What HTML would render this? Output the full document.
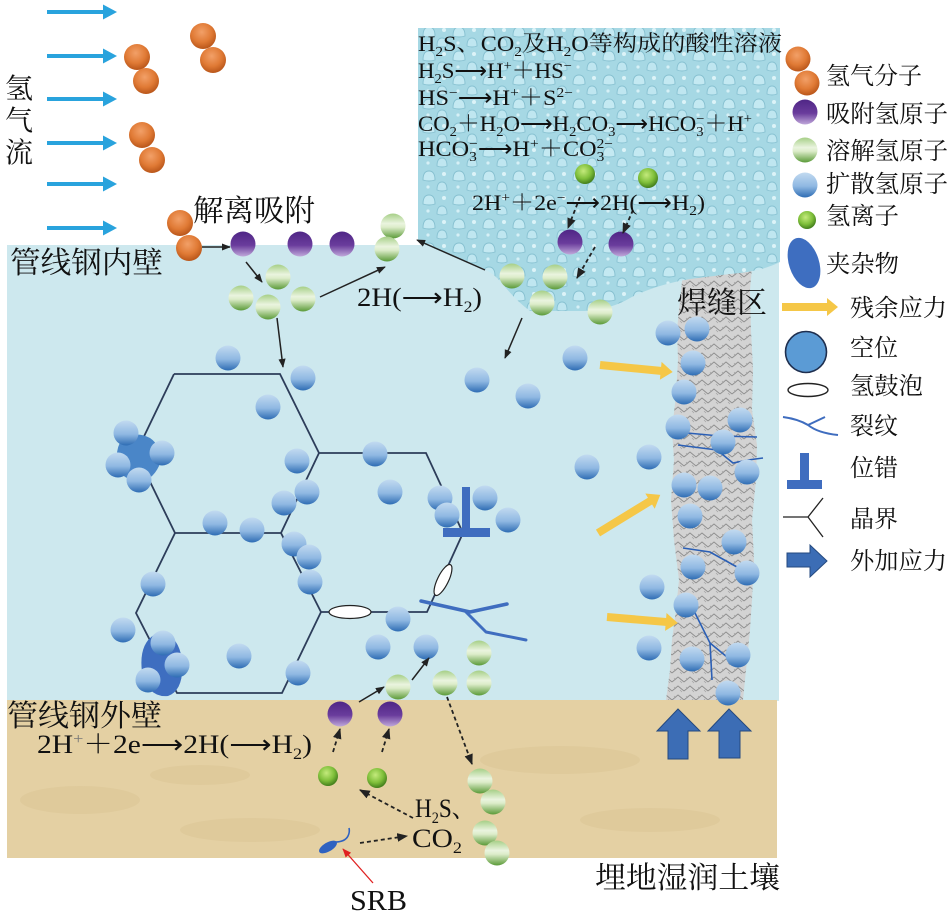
<!DOCTYPE html>
<html><head><meta charset="utf-8"><style>
html,body{margin:0;padding:0;background:#fff;}
svg{display:block;}
text{font-family:"Liberation Serif","Noto Serif CJK SC",serif;fill:#111;}
</style></head><body>
<svg width="952" height="918" viewBox="0 0 952 918" xmlns="http://www.w3.org/2000/svg">
<defs>
<radialGradient id="gOr" cx="45%" cy="35%" r="65%"><stop offset="0" stop-color="#f2a068"/><stop offset="0.6" stop-color="#e07a35"/><stop offset="1" stop-color="#b9561a"/></radialGradient>
<linearGradient id="gPu" x1="0" y1="0" x2="0" y2="1"><stop offset="0" stop-color="#4f2686"/><stop offset="0.55" stop-color="#6a3c9c"/><stop offset="1" stop-color="#c0a8da"/></linearGradient>
<linearGradient id="gGr" x1="0" y1="0" x2="0" y2="1"><stop offset="0" stop-color="#a6cf86"/><stop offset="0.4" stop-color="#eaf4df"/><stop offset="0.55" stop-color="#dcecc9"/><stop offset="1" stop-color="#5a9a38"/></linearGradient>
<linearGradient id="gBl" x1="0" y1="0" x2="0" y2="1"><stop offset="0" stop-color="#c2daf0"/><stop offset="0.55" stop-color="#8fb8e2"/><stop offset="1" stop-color="#2e6cb4"/></linearGradient>
<radialGradient id="gIon" cx="42%" cy="35%" r="65%"><stop offset="0" stop-color="#c4ea7c"/><stop offset="0.6" stop-color="#7fbf3a"/><stop offset="1" stop-color="#437f1c"/></radialGradient>
<pattern id="drops" width="30" height="24" patternUnits="userSpaceOnUse">
<rect width="30" height="24" fill="#a6d8e4"/>
<path d="M3,12 Q3,3 9,3 Q15,3 15,12 Q9,14 3,12Z" fill="#c4e9f2" stroke="#86c0d0" stroke-width="0.9"/>
<path d="M17,22 Q17,14 22,14 Q27,14 27,22 Q22,24 17,22Z" fill="#bfe6f0" stroke="#88c2d2" stroke-width="0.9"/>
<circle cx="24" cy="6" r="2" fill="#dcf3f8"/>
<circle cx="8" cy="19" r="1.6" fill="#d6f0f6"/>
</pattern>
<pattern id="weld" width="12" height="9" patternUnits="userSpaceOnUse">
<rect width="12" height="9" fill="#d3d3d3"/>
<path d="M0,7 L6,2 L12,7" fill="none" stroke="#8e8e8e" stroke-width="0.9"/>
<path d="M2,3 L4,5 M8,6 L10,8" fill="none" stroke="#a2a2a2" stroke-width="0.7"/>
</pattern>
<marker id="ah" viewBox="0 0 10 10" refX="9" refY="5" markerWidth="6" markerHeight="6" orient="auto" markerUnits="strokeWidth"><path d="M0,1 L10,5 L0,9 z" fill="#222"/></marker>
<marker id="ahr" viewBox="0 0 10 10" refX="9" refY="5" markerWidth="7" markerHeight="7" orient="auto" markerUnits="strokeWidth"><path d="M0,1 L10,5 L0,9 z" fill="#e02020"/></marker>
</defs>

<!-- regions -->
<rect x="7" y="245" width="772" height="456" fill="#cde8ee"/>
<rect x="7" y="700" width="770" height="158" fill="#e4d0a3"/>
<g opacity="0.18" fill="#c9b07a">
<ellipse cx="80" cy="800" rx="60" ry="14"/><ellipse cx="250" cy="830" rx="70" ry="12"/><ellipse cx="560" cy="760" rx="80" ry="14"/><ellipse cx="650" cy="820" rx="70" ry="12"/><ellipse cx="200" cy="775" rx="50" ry="10"/>
</g>

<!-- weld zone -->
<path d="M683,272 L680,300 L677,330 L678,360 L676,395 L672,430 L674,460 L671,500 L674,540 L679,580 L676,610 L672,640 L670,670 L666,700 L743,700 L746,670 L750,630 L752,600 L754,560 L752,520 L756,480 L757,445 L752,410 L753,370 L751,330 L750,290 L752,268 Z" fill="url(#weld)"/>

<!-- acid solution blob -->
<path d="M418,28 L780,28 L780,262 Q760,272 730,274 L690,279 Q655,285 630,298 Q612,309 585,311 L530,311 Q515,300 502,283 Q492,272 482,268 L418,242 Z" fill="url(#drops)"/>

<!-- hex grain boundaries -->
<g stroke="#2d3d5a" stroke-width="1.8" fill="none">
<path d="M174,374 L280,374 L319,453 L426,453 L463,533 L427,612 L321,612 L281,533 L319,453"/>
<path d="M281,533 L175,533 L136,453 L174,374"/>
<path d="M175,533 L136,613 L177,693 L282,693 L321,612"/>
</g>

<!-- inclusions -->
<path d="M122,440 Q135,430 150,438 Q163,447 159,466 Q151,483 135,481 Q117,477 117,460 Q116,447 122,440Z" fill="#4a86c8"/>
<path d="M160,632 Q180,636 182,662 Q184,690 168,696 Q148,698 142,672 Q138,640 160,632Z" fill="#3e6ec0"/>

<!-- dislocation -->
<rect x="462" y="487" width="8" height="44" fill="#3f6dbf"/>
<rect x="443" y="528" width="47" height="9" fill="#3f6dbf"/>

<!-- blisters -->
<ellipse cx="350" cy="612" rx="21" ry="6.5" fill="#fff" stroke="#222" stroke-width="1.2"/>
<ellipse cx="443" cy="580" rx="17" ry="5.5" fill="#fff" stroke="#222" stroke-width="1.2" transform="rotate(-64 443 580)"/>

<!-- crack -->
<g stroke="#3f6dbf" fill="none" stroke-linecap="round" stroke-linejoin="round">
<path d="M421,601 L470,612 L507,604" stroke-width="3.5"/>
<path d="M466,612 L486,632 L526,640" stroke-width="3"/>
</g>

<!-- weld cracks -->
<g stroke="#2b5fb5" fill="none" stroke-width="1.6">
<path d="M687,433 L720,436 L757,437"/>
<path d="M678,445 L717,450 L733,463 L748,460 L763,458"/>
<path d="M683,548 L710,552 L737,567"/>
<path d="M695,613 L710,643 L712,680 M710,643 L727,657"/>
</g>

<!-- blue diffusion atoms -->
<g fill="url(#gBl)">
<circle cx="126" cy="433" r="12.5"/><circle cx="162" cy="453" r="12.5"/><circle cx="118" cy="465" r="12.5"/><circle cx="139" cy="480" r="12.5"/>
<circle cx="163" cy="643" r="12.5"/><circle cx="177" cy="665" r="12.5"/><circle cx="148" cy="680" r="12.5"/>
<circle cx="228" cy="358" r="12.5"/><circle cx="303" cy="378" r="12.5"/><circle cx="268" cy="407" r="12.5"/><circle cx="297" cy="461" r="12.5"/>
<circle cx="307" cy="492" r="12.5"/><circle cx="284" cy="503" r="12.5"/><circle cx="215" cy="523" r="12.5"/><circle cx="252" cy="530" r="12.5"/>
<circle cx="294" cy="544" r="12.5"/><circle cx="309" cy="557" r="12.5"/><circle cx="310" cy="582" r="12.5"/><circle cx="375" cy="454" r="12.5"/>
<circle cx="390" cy="492" r="12.5"/><circle cx="440" cy="498" r="12.5"/><circle cx="447" cy="515" r="12.5"/><circle cx="485" cy="498" r="12.5"/>
<circle cx="508" cy="520" r="12.5"/><circle cx="153" cy="584" r="12.5"/><circle cx="123" cy="630" r="12.5"/><circle cx="239" cy="656" r="12.5"/>
<circle cx="298" cy="673" r="12.5"/><circle cx="398" cy="619" r="12.5"/><circle cx="378" cy="647" r="12.5"/><circle cx="426" cy="647" r="12.5"/>
<circle cx="477" cy="380" r="12.5"/><circle cx="528" cy="396" r="12.5"/>
<circle cx="575" cy="358" r="12.5"/><circle cx="587" cy="467" r="12.5"/><circle cx="649" cy="457" r="12.5"/><circle cx="652" cy="587" r="12.5"/><circle cx="649" cy="648" r="12.5"/>
<circle cx="668" cy="333" r="12.5"/><circle cx="697" cy="329" r="12.5"/><circle cx="693" cy="363" r="12.5"/><circle cx="684" cy="392" r="12.5"/>
<circle cx="678" cy="427" r="12.5"/><circle cx="740" cy="420" r="12.5"/><circle cx="723" cy="442" r="12.5"/><circle cx="747" cy="472" r="12.5"/>
<circle cx="684" cy="485" r="12.5"/><circle cx="710" cy="488" r="12.5"/><circle cx="690" cy="516" r="12.5"/><circle cx="734" cy="542" r="12.5"/>
<circle cx="693" cy="567" r="12.5"/><circle cx="747" cy="573" r="12.5"/><circle cx="686" cy="605" r="12.5"/><circle cx="692" cy="659" r="12.5"/>
<circle cx="738" cy="655" r="12.5"/><circle cx="728" cy="693" r="12.5"/>
<circle cx="805" cy="185" r="12.5"/>
</g>

<!-- orange H2 molecules -->
<g fill="url(#gOr)">
<circle cx="203" cy="36" r="13"/><circle cx="213" cy="60" r="13"/><circle cx="137" cy="57" r="13"/><circle cx="146" cy="81" r="13"/>
<circle cx="142" cy="135" r="13"/><circle cx="152" cy="160" r="13"/><circle cx="180" cy="223" r="13"/><circle cx="189" cy="248" r="13"/>
<circle cx="798" cy="59" r="12.5"/><circle cx="807" cy="83" r="12.5"/>
</g>

<!-- purple adsorbed -->
<g fill="url(#gPu)">
<circle cx="243" cy="244" r="12.5"/><circle cx="300" cy="244" r="12.5"/><circle cx="342" cy="244" r="12.5"/>
<circle cx="570" cy="242" r="12.5"/><circle cx="621" cy="244" r="12.5"/>
<circle cx="340" cy="714" r="12.5"/><circle cx="390" cy="714" r="12.5"/>
<circle cx="805" cy="112" r="12.5"/>
</g>

<!-- green dissolved -->
<g fill="url(#gGr)">
<circle cx="393" cy="226" r="12.5"/><circle cx="387" cy="249" r="12.5"/><circle cx="278" cy="277" r="12.5"/><circle cx="241" cy="298" r="12.5"/>
<circle cx="268" cy="307" r="12.5"/><circle cx="303" cy="299" r="12.5"/><circle cx="512" cy="276" r="12.5"/><circle cx="555" cy="277" r="12.5"/>
<circle cx="542" cy="303" r="12.5"/><circle cx="600" cy="312" r="12.5"/>
<circle cx="398" cy="687" r="12.5"/><circle cx="445" cy="683" r="12.5"/><circle cx="479" cy="683" r="12.5"/><circle cx="479" cy="653" r="12.5"/>
<circle cx="480" cy="781" r="12.5"/><circle cx="493" cy="802" r="12.5"/><circle cx="485" cy="833" r="12.5"/><circle cx="497" cy="853" r="12.5"/>
<circle cx="805" cy="150" r="12.5"/>
</g>

<!-- ions -->
<g fill="url(#gIon)">
<circle cx="585" cy="174" r="10"/><circle cx="648" cy="178" r="10"/><circle cx="328" cy="776" r="10"/><circle cx="377" cy="778" r="10"/>
<circle cx="807" cy="220" r="9"/>
</g>

<!-- blue flow arrows -->
<g fill="#29a3dd">
<g transform="translate(47,12)"><rect x="0" y="-2" width="58" height="4"/><polygon points="56,-7.5 70,0 56,7.5"/></g>
<g transform="translate(47,56)"><rect x="0" y="-2" width="58" height="4"/><polygon points="56,-7.5 70,0 56,7.5"/></g>
<g transform="translate(47,99)"><rect x="0" y="-2" width="58" height="4"/><polygon points="56,-7.5 70,0 56,7.5"/></g>
<g transform="translate(47,143)"><rect x="0" y="-2" width="58" height="4"/><polygon points="56,-7.5 70,0 56,7.5"/></g>
<g transform="translate(47,184)"><rect x="0" y="-2" width="58" height="4"/><polygon points="56,-7.5 70,0 56,7.5"/></g>
<g transform="translate(47,228)"><rect x="0" y="-2" width="58" height="4"/><polygon points="56,-7.5 70,0 56,7.5"/></g>
</g>

<!-- yellow residual stress arrows -->
<g fill="#f5c747">
<g transform="translate(600,365) rotate(5.5)"><polygon points="0,-4 61,-4 61,-9 73,0 61,9 61,4 0,4"/></g>
<g transform="translate(598,533) rotate(-31.5)"><polygon points="0,-4 61,-4 61,-9 73,0 61,9 61,4 0,4"/></g>
<g transform="translate(607,617) rotate(4.8)"><polygon points="0,-4 59,-4 59,-9 71,0 59,9 59,4 0,4"/></g>
<g transform="translate(782,307)"><polygon points="0,-4 45,-4 45,-9 56,0 45,9 45,4 0,4"/></g>
</g>

<!-- applied stress arrows -->
<g fill="#3c6db5" stroke="#24497f" stroke-width="1">
<polygon points="678,709 700,731 688,731 688,759 668,759 668,731 657,731"/>
<polygon points="729,709 751,731 740,731 740,758 719,758 719,731 708,731"/>
<polygon points="787,553 810,553 810,545 827,561 810,577 810,567 787,567"/>
</g>

<!-- black arrows -->
<g stroke="#222" stroke-width="1.5" fill="none" marker-end="url(#ah)">
<line x1="202" y1="247" x2="230" y2="247"/>
<line x1="246" y1="262" x2="262" y2="282"/>
<line x1="320" y1="297" x2="385" y2="267"/>
<line x1="485" y1="270" x2="417" y2="240"/>
<line x1="277" y1="318" x2="283" y2="367"/>
<line x1="522" y1="318" x2="505" y2="358"/>
<line x1="359" y1="702" x2="384" y2="687"/>
<line x1="412" y1="680" x2="429" y2="658"/>
</g>
<g stroke="#222" stroke-width="1.8" fill="none" stroke-dasharray="4 3" marker-end="url(#ah)">
<line x1="580" y1="197" x2="568" y2="228"/>
<line x1="633" y1="210" x2="623" y2="233"/>
<line x1="595" y1="247" x2="577" y2="278"/>
<line x1="333" y1="752" x2="340" y2="729"/>
<line x1="382" y1="752" x2="389" y2="729"/>
<line x1="447" y1="697" x2="472" y2="764"/>
<line x1="413" y1="818" x2="360" y2="790"/>
<line x1="360" y1="843" x2="407" y2="836"/>
</g>
<line x1="373" y1="883" x2="343" y2="849" stroke="#e02020" stroke-width="1.3" marker-end="url(#ahr)"/>

<!-- SRB -->
<ellipse cx="328" cy="847" rx="10" ry="4.5" fill="#2f62c0" transform="rotate(-30 328 847)"/>
<path d="M335,842 Q345,842 348,836 Q350,832 349,828" stroke="#2f62c0" stroke-width="1.6" fill="none"/>

<!-- legend shapes -->
<ellipse cx="804" cy="263" rx="15" ry="26" fill="#3e6ec0" transform="rotate(-18 804 263)"/>
<circle cx="806" cy="352" r="20.5" fill="#5b9bd5" stroke="#1f2f4f" stroke-width="1.6"/>
<ellipse cx="808" cy="390" rx="20" ry="6.5" fill="#fff" stroke="#222" stroke-width="1.4"/>
<path d="M783,417 Q798,419 808,425 L825,417 M808,425 Q818,433 838,435" stroke="#3f6dbf" stroke-width="2" fill="none"/>
<rect x="800" y="453" width="9" height="28" fill="#3f6dbf"/>
<rect x="787" y="480" width="35" height="9" fill="#3f6dbf"/>
<path d="M783,517 L808,517 L823,498 M808,517 L823,537" stroke="#222" stroke-width="1.3" fill="none"/>

<!-- texts -->
<g font-size="28" text-anchor="middle">
<text x="19" y="98">氢</text><text x="19" y="130">气</text><text x="19" y="162">流</text>
</g>
<text x="193" y="221" font-size="30" textLength="122" lengthAdjust="spacingAndGlyphs">解离吸附</text>
<text x="10" y="273" font-size="30" textLength="153" lengthAdjust="spacingAndGlyphs">管线钢内壁</text>
<text x="357" y="306" font-size="26" textLength="125" lengthAdjust="spacingAndGlyphs">2H(⟶H<tspan dy="6" font-size="16">2</tspan><tspan dy="-6">)</tspan></text>

<g font-size="22">
<text x="418" y="51" textLength="364" lengthAdjust="spacingAndGlyphs">H<tspan dy="5" font-size="14">2</tspan><tspan dy="-5">S、CO</tspan><tspan dy="5" font-size="14">2</tspan><tspan dy="-5">及H</tspan><tspan dy="5" font-size="14">2</tspan><tspan dy="-5">O等构成的酸性溶液</tspan></text>
<text x="418" y="78" textLength="154" lengthAdjust="spacingAndGlyphs">H<tspan dy="5" font-size="14">2</tspan><tspan dy="-5">S⟶H</tspan><tspan dy="-8" font-size="14">+</tspan><tspan dy="8">＋HS</tspan><tspan dy="-8" font-size="14">−</tspan></text>
<text x="418" y="105" textLength="155" lengthAdjust="spacingAndGlyphs">HS<tspan dy="-8" font-size="14">−</tspan><tspan dy="8">⟶H</tspan><tspan dy="-8" font-size="14">+</tspan><tspan dy="8">＋S</tspan><tspan dy="-8" font-size="14">2−</tspan></text>
<text x="418" y="131" textLength="334" lengthAdjust="spacingAndGlyphs">CO<tspan dy="5" font-size="14">2</tspan><tspan dy="-5">＋H</tspan><tspan dy="5" font-size="14">2</tspan><tspan dy="-5">O⟶H</tspan><tspan dy="5" font-size="14">2</tspan><tspan dy="-5">CO</tspan><tspan dy="5" font-size="14">3</tspan><tspan dy="-5">⟶HCO</tspan><tspan dy="5" font-size="14">3</tspan><tspan dy="-13" dx="-7" font-size="14">−</tspan><tspan dy="8">＋H</tspan><tspan dy="-8" font-size="14">+</tspan></text>
<text x="418" y="156" textLength="195" lengthAdjust="spacingAndGlyphs">HCO<tspan dy="5" font-size="14">3</tspan><tspan dy="-13" dx="-7" font-size="14">−</tspan><tspan dy="8">⟶H</tspan><tspan dy="-8" font-size="14">+</tspan><tspan dy="8">＋CO</tspan><tspan dy="5" font-size="14">3</tspan><tspan dy="-13" dx="-7" font-size="14">2−</tspan></text>
<text x="472" y="210" textLength="233" lengthAdjust="spacingAndGlyphs">2H<tspan dy="-8" font-size="14">+</tspan><tspan dy="8">＋2e</tspan><tspan dy="-8" font-size="14">−</tspan><tspan dy="8">⟶2H(⟶H</tspan><tspan dy="5" font-size="14">2</tspan><tspan dy="-5">)</tspan></text>
</g>

<text x="677" y="313" font-size="30" textLength="90" lengthAdjust="spacingAndGlyphs">焊缝区</text>
<text x="7" y="726" font-size="30" textLength="155" lengthAdjust="spacingAndGlyphs">管线钢外壁</text>
<text x="37" y="753" font-size="26" textLength="275" lengthAdjust="spacingAndGlyphs">2H<tspan dy="-9" font-size="16" fill="#777">+</tspan><tspan dy="9">＋2e⟶2H(⟶H</tspan><tspan dy="6" font-size="16">2</tspan><tspan dy="-6">)</tspan></text>
<text x="415" y="817" font-size="26" textLength="60" lengthAdjust="spacingAndGlyphs">H<tspan dy="6" font-size="16">2</tspan><tspan dy="-6">S、</tspan></text>
<text x="412" y="847" font-size="26" textLength="50" lengthAdjust="spacingAndGlyphs">CO<tspan dy="6" font-size="16">2</tspan></text>
<text x="350" y="910" font-size="28" textLength="57" lengthAdjust="spacingAndGlyphs">SRB</text>
<text x="595" y="888" font-size="30" textLength="185" lengthAdjust="spacingAndGlyphs">埋地湿润土壤</text>

<g font-size="24">
<text x="826" y="84" textLength="96" lengthAdjust="spacingAndGlyphs">氢气分子</text>
<text x="826" y="122" textLength="122" lengthAdjust="spacingAndGlyphs">吸附氢原子</text>
<text x="826" y="159" textLength="122" lengthAdjust="spacingAndGlyphs">溶解氢原子</text>
<text x="826" y="192" textLength="122" lengthAdjust="spacingAndGlyphs">扩散氢原子</text>
<text x="826" y="224" textLength="73" lengthAdjust="spacingAndGlyphs">氢离子</text>
<text x="826" y="272" textLength="73" lengthAdjust="spacingAndGlyphs">夹杂物</text>
<text x="850" y="316" textLength="97" lengthAdjust="spacingAndGlyphs">残余应力</text>
<text x="850" y="356" textLength="48" lengthAdjust="spacingAndGlyphs">空位</text>
<text x="850" y="394" textLength="73" lengthAdjust="spacingAndGlyphs">氢鼓泡</text>
<text x="850" y="434" textLength="48" lengthAdjust="spacingAndGlyphs">裂纹</text>
<text x="850" y="476" textLength="48" lengthAdjust="spacingAndGlyphs">位错</text>
<text x="850" y="527" textLength="48" lengthAdjust="spacingAndGlyphs">晶界</text>
<text x="850" y="569" textLength="97" lengthAdjust="spacingAndGlyphs">外加应力</text>
</g>
</svg>
</body></html>
